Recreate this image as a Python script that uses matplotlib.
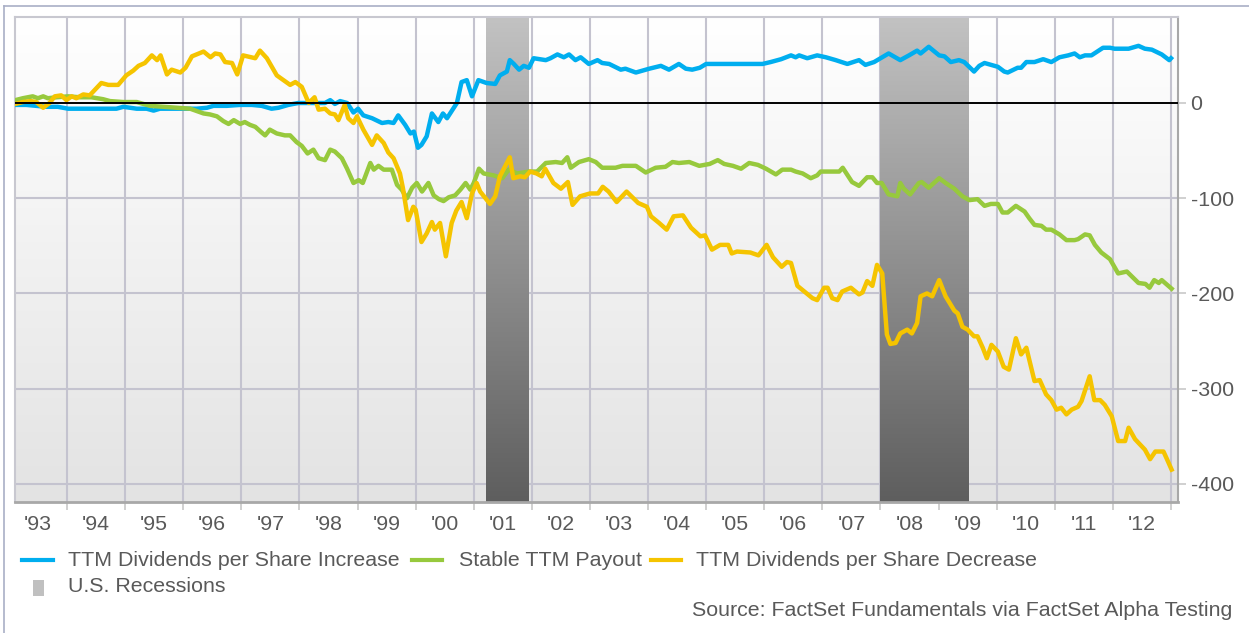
import numpy as np
import matplotlib
matplotlib.use("Agg")
import matplotlib.pyplot as plt
from matplotlib.colors import LinearSegmentedColormap
from matplotlib.lines import Line2D
from matplotlib.patches import Rectangle

# ---- data (x = fractional year) ----
inc_x = [1993.11, 1993.30, 1993.47, 1993.64, 1993.84, 1994.02, 1994.45, 1994.85, 1994.97, 1995.20,
         1995.37, 1995.49, 1995.60, 1995.89, 1996.23, 1996.41, 1996.52, 1996.75, 1996.98, 1997.18,
         1997.35, 1997.52, 1997.64, 1997.81, 1997.98, 1998.44, 1998.53, 1998.61, 1998.70, 1998.82,
         1998.93, 1999.01, 1999.10, 1999.25, 1999.42, 1999.53, 1999.62, 1999.70, 1999.82, 1999.91,
         1999.97, 2000.04, 2000.10, 2000.19, 2000.28, 2000.39, 2000.47, 2000.54, 2000.71, 2000.79,
         2000.88, 2000.97, 2001.08, 2001.22, 2001.37, 2001.45, 2001.57, 2001.62, 2001.69, 2001.78,
         2001.86, 2001.95, 2002.03, 2002.24, 2002.32, 2002.44, 2002.55, 2002.64, 2002.75, 2002.84,
         2002.98, 2003.13, 2003.21, 2003.33, 2003.53, 2003.61, 2003.79, 2004.02, 2004.22, 2004.36,
         2004.53, 2004.65, 2004.76, 2004.89, 2005.00, 2005.97, 2006.11, 2006.29, 2006.46, 2006.54,
         2006.60, 2006.74, 2006.91, 2007.06, 2007.23, 2007.43, 2007.63, 2007.74, 2007.89, 2008.00,
         2008.14, 2008.34, 2008.49, 2008.63, 2008.69, 2008.83, 2008.89, 2009.01, 2009.10, 2009.21,
         2009.35, 2009.44, 2009.61, 2009.70, 2009.79, 2010.02, 2010.13, 2010.19, 2010.36, 2010.42,
         2010.51, 2010.65, 2010.80, 2010.94, 2011.08, 2011.23, 2011.34, 2011.43, 2011.52, 2011.63,
         2011.83, 2011.95, 2012.03, 2012.27, 2012.44, 2012.55, 2012.67, 2012.84, 2012.97, 2013.00]
inc_y = [-2, -2, -3, -4, -4, -6, -6, -6, -4, -6,
         -6, -8, -6, -6, -6, -5, -3, -3, -2, -2,
         -3, -6, -5, -2, 0, 0, 3, -1, 2, 0,
         -10, -6, -13, -16, -21, -20, -21, -13, -23, -32,
         -30, -47, -44, -35, -11, -20, -11, -16, 0, 22,
         24, 7, 24, 21, 20, 29, 33, 45, 41, 35,
         39, 37, 47, 45, 47, 51, 48, 51, 45, 48,
         41, 45, 42, 41, 35, 36, 32, 36, 39, 35,
         41, 36, 35, 37, 41, 41, 43, 46, 50, 48,
         50, 47, 50, 48, 45, 41, 45, 40, 43, 47,
         52, 45, 50, 55, 52, 59, 56, 50, 49, 43,
         45, 43, 33, 39, 42, 38, 33, 32, 37, 37,
         43, 43, 46, 43, 48, 50, 52, 48, 50, 50,
         58, 58, 57, 57, 60, 57, 56, 51, 45, 47]

stable_x = [1993.11, 1993.24, 1993.41, 1993.50, 1993.59, 1993.67, 1993.82, 1994.02, 1994.22, 1994.42,
            1994.62, 1994.74, 1994.97, 1995.20, 1995.43, 1995.66, 1995.89, 1996.12, 1996.35, 1996.46,
            1996.58, 1996.69, 1996.78, 1996.87, 1996.98, 1997.06, 1997.15, 1997.24, 1997.35, 1997.41,
            1997.49, 1997.61, 1997.75, 1997.84, 1997.95, 1998.04, 1998.14, 1998.24, 1998.33, 1998.44,
            1998.53, 1998.61, 1998.73, 1998.82, 1998.93, 1999.02, 1999.09, 1999.22, 1999.28, 1999.36,
            1999.45, 1999.59, 1999.68, 1999.76, 1999.85, 1999.94, 2000.02, 2000.11, 2000.22, 2000.31,
            2000.40, 2000.48, 2000.57, 2000.68, 2000.77, 2000.86, 2000.94, 2001.00, 2001.09, 2001.17,
            2001.34, 2001.49, 2001.60, 2001.75, 2001.95, 2002.09, 2002.24, 2002.41, 2002.52, 2002.61,
            2002.67, 2002.81, 2002.98, 2003.10, 2003.21, 2003.44, 2003.56, 2003.79, 2003.96, 2004.13,
            2004.30, 2004.42, 2004.53, 2004.71, 2004.88, 2005.06, 2005.20, 2005.31, 2005.46, 2005.60,
            2005.74, 2005.89, 2006.03, 2006.20, 2006.31, 2006.46, 2006.54, 2006.66, 2006.80, 2006.91,
            2006.97, 2007.29, 2007.35, 2007.51, 2007.63, 2007.77, 2007.86, 2007.94, 2008.02, 2008.14,
            2008.29, 2008.34, 2008.40, 2008.51, 2008.66, 2008.71, 2008.83, 2009.01, 2009.12, 2009.27,
            2009.41, 2009.53, 2009.67, 2009.79, 2009.90, 2010.02, 2010.10, 2010.19, 2010.33, 2010.48,
            2010.56, 2010.65, 2010.77, 2010.85, 2010.94, 2011.08, 2011.20, 2011.34, 2011.40, 2011.52,
            2011.60, 2011.69, 2011.80, 2011.95, 2012.09, 2012.24, 2012.44, 2012.56, 2012.63, 2012.71,
            2012.79, 2012.84, 2013.01]
stable_y = [3, 5, 7, 5, 7, 5, 6, 7, 6, 6,
            4, 2, 1, 1, -3, -4, -5, -6, -11, -12,
            -14, -19, -22, -18, -22, -20, -23, -25, -31, -34,
            -28, -32, -34, -34, -41, -45, -53, -49, -58, -60,
            -49, -51, -58, -69, -84, -81, -84, -63, -70, -66,
            -70, -70, -86, -91, -100, -89, -84, -93, -84, -97,
            -101, -103, -99, -97, -91, -84, -91, -84, -69, -74,
            -76, -79, -70, -74, -72, -72, -63, -62, -63, -57,
            -68, -62, -59, -62, -68, -68, -66, -66, -73, -68,
            -67, -62, -63, -62, -66, -64, -60, -64, -66, -69,
            -63, -65, -69, -75, -70, -70, -72, -74, -79, -76,
            -72, -72, -68, -83, -87, -78, -78, -84, -84, -96,
            -98, -84, -90, -96, -84, -83, -89, -79, -84, -90,
            -98, -102, -101, -108, -106, -106, -115, -115, -108, -114,
            -121, -128, -129, -133, -133, -138, -144, -144, -143, -138,
            -139, -149, -157, -164, -179, -177, -189, -190, -194, -186,
            -189, -186, -195]

dec_x = [1993.11, 1993.24, 1993.38, 1993.47, 1993.59, 1993.70, 1993.79, 1993.90, 1993.99, 1994.08,
         1994.16, 1994.28, 1994.39, 1994.59, 1994.71, 1994.88, 1995.02, 1995.14, 1995.23, 1995.34,
         1995.46, 1995.55, 1995.61, 1995.72, 1995.80, 1995.95, 1996.04, 1996.15, 1996.35, 1996.47,
         1996.55, 1996.64, 1996.72, 1996.84, 1996.93, 1997.03, 1997.24, 1997.32, 1997.44, 1997.61,
         1997.84, 1997.93, 1998.04, 1998.16, 1998.26, 1998.33, 1998.44, 1998.53, 1998.61, 1998.67,
         1998.78, 1998.84, 1998.93, 1998.99, 1999.10, 1999.25, 1999.33, 1999.45, 1999.53, 1999.62,
         1999.73, 1999.78, 1999.87, 1999.96, 2000.00, 2000.10, 2000.19, 2000.28, 2000.33, 2000.42,
         2000.52, 2000.62, 2000.70, 2000.79, 2000.88, 2000.97, 2001.05, 2001.11, 2001.28, 2001.37,
         2001.45, 2001.62, 2001.68, 2001.80, 2001.88, 2001.97, 2002.08, 2002.17, 2002.23, 2002.37,
         2002.50, 2002.62, 2002.70, 2002.83, 2003.00, 2003.14, 2003.22, 2003.32, 2003.46, 2003.63,
         2003.83, 2003.98, 2004.05, 2004.19, 2004.32, 2004.44, 2004.60, 2004.74, 2004.90, 2004.98,
         2005.10, 2005.24, 2005.38, 2005.44, 2005.53, 2005.76, 2005.90, 2006.04, 2006.15, 2006.30,
         2006.39, 2006.46, 2006.57, 2006.69, 2006.83, 2006.91, 2007.03, 2007.09, 2007.17, 2007.26,
         2007.34, 2007.49, 2007.63, 2007.69, 2007.77, 2007.86, 2007.94, 2008.03, 2008.11, 2008.17,
         2008.26, 2008.34, 2008.46, 2008.54, 2008.63, 2008.69, 2008.80, 2008.89, 2009.01, 2009.12,
         2009.27, 2009.33, 2009.41, 2009.50, 2009.61, 2009.67, 2009.76, 2009.83, 2009.91, 2010.02,
         2010.12, 2010.21, 2010.33, 2010.42, 2010.51, 2010.65, 2010.74, 2010.85, 2010.94, 2011.03,
         2011.11, 2011.20, 2011.29, 2011.40, 2011.46, 2011.60, 2011.68, 2011.78, 2011.86, 2011.98,
         2012.09, 2012.21, 2012.27, 2012.38, 2012.55, 2012.64, 2012.73, 2012.87, 2012.93, 2013.01]
dec_y = [-1, 1, 2, 1, -5, 0, 7, 8, 3, 7,
         5, 9, 8, 21, 19, 19, 29, 34, 39, 42,
         50, 45, 50, 30, 35, 32, 37, 49, 54, 48,
         52, 51, 43, 42, 30, 50, 47, 55, 47, 29,
         19, 22, 17, 0, 6, -7, -6, -11, -12, -18,
         -2, -16, -21, -14, -28, -44, -34, -42, -52, -58,
         -74, -89, -123, -109, -112, -146, -137, -125, -133, -126,
         -161, -126, -113, -104, -121, -95, -84, -93, -106, -98,
         -77, -57, -79, -77, -78, -72, -74, -77, -69, -84,
         -90, -83, -107, -98, -95, -95, -88, -93, -104, -93,
         -105, -109, -119, -126, -133, -119, -118, -131, -140, -139,
         -154, -149, -149, -158, -156, -157, -160, -149, -162, -172,
         -167, -168, -192, -198, -205, -207, -194, -194, -205, -207,
         -198, -194, -201, -199, -187, -192, -170, -179, -243, -253,
         -252, -242, -238, -242, -231, -203, -200, -203, -186, -203,
         -218, -221, -235, -238, -245, -245, -257, -268, -254, -261,
         -277, -280, -247, -264, -257, -292, -291, -306, -312, -322,
         -320, -327, -322, -319, -313, -287, -312, -312, -317, -329,
         -355, -355, -341, -353, -364, -374, -366, -366, -374, -385]

recessions = [(2001.21, 2001.95), (2008.0, 2009.52)]
years = list(range(1993, 2013))
year_labels = ["'%02d" % (y % 100) for y in years]
y_ticks = [0, -100, -200, -300, -400]

BLUE, GREEN, GOLD = "#00aeef", "#97c93d", "#f5c400"
TXT = "#595959"
GRID = "#c4c3cf"
FS = 15.4

plt.rcParams["font.family"] = ["Liberation Sans", "DejaVu Sans"]

W, H = 1249, 633
fig = plt.figure(figsize=(W / 100, H / 100), dpi=100)
ax = fig.add_axes([15 / W, 1 - 502 / H, (1178 - 15) / W, (502 - 17) / H])
x0, x1, y0, y1 = 1993.105, 2013.12, -419, 90.3

# plot background gradient
grad = np.linspace(0, 1, 256).reshape(-1, 1)
bg_cmap = LinearSegmentedColormap.from_list("bg", ["#ffffff", "#e3e3e3"])
ax.imshow(grad, extent=[x0, x1, y0, y1], aspect="auto", cmap=bg_cmap, zorder=0)

# grid
for yr in range(1994, 2014):
    ax.axvline(yr, color=GRID, lw=1.5, zorder=1)
for v in y_ticks[1:]:
    ax.axhline(v, color=GRID, lw=1.5, zorder=1)

# recession shading
rec_cmap = LinearSegmentedColormap.from_list("rec", ["#c2c2c2", "#5e5e5e"])
for a, b in recessions:
    ax.imshow(grad, extent=[a, b, y0, y1], aspect="auto", cmap=rec_cmap, zorder=2)
ax.set_xlim(x0, x1)
ax.set_ylim(y0, y1)

ax.plot(inc_x, inc_y, color=BLUE, lw=3.2, zorder=3, solid_joinstyle="round")
ax.plot(stable_x, stable_y, color=GREEN, lw=3.2, zorder=3, solid_joinstyle="round")
ax.plot(dec_x, dec_y, color=GOLD, lw=3.2, zorder=4, solid_joinstyle="round")
ax.axhline(0, color="black", lw=1.4, zorder=5)

# axes styling
ax.yaxis.tick_right()
ax.set_yticks(y_ticks)
ax.set_yticklabels([str(v) for v in y_ticks])
ax.tick_params(axis="y", length=6, width=1.2, color="#c8c8c8", pad=3,
               labelsize=FS, labelcolor=TXT)
ax.set_xticks(range(1994, 2014))
ax.set_xticklabels([])
ax.set_xticks([y + 0.5 for y in years], minor=True)
ax.set_xticklabels(year_labels, minor=True)
ax.tick_params(axis="x", which="major", length=6, width=1.2, color="#c8c8c8")
ax.tick_params(axis="x", which="minor", length=0, pad=9, labelsize=FS, labelcolor=TXT)
for s in ["left", "top"]:
    ax.spines[s].set_color("#c8c8d0")
    ax.spines[s].set_linewidth(1.5)
ax.spines["right"].set_color("#a8a8a8")
ax.spines["right"].set_linewidth(1.5)
ax.spines["bottom"].set_color("#a8a8a8")
ax.spines["bottom"].set_linewidth(2)

# outer frame
fig.add_artist(Line2D([4 / W, 1], [1 - 6 / H, 1 - 6 / H], transform=fig.transFigure,
                      color="#a9afc6", lw=1.2))
fig.add_artist(Line2D([4 / W, 4 / W], [0, 1 - 6 / H], transform=fig.transFigure,
                      color="#a9afc6", lw=1.2))

# legend (manual)
def px(x, y):
    return x / W, 1 - y / H

legend_items = [
    (22, 53, 68, BLUE, "TTM Dividends per Share Increase"),
    (412, 442, 459, GREEN, "Stable TTM Payout"),
    (651, 681, 696, GOLD, "TTM Dividends per Share Decrease"),
]
for la, lb, tx, col, lab in legend_items:
    (xa, yy), (xb, _) = px(la, 560), px(lb, 560)
    fig.add_artist(Line2D([xa, xb], [yy, yy], transform=fig.transFigure, color=col, lw=3))
    fig.text(*px(tx, 560), lab, fontsize=FS, color=TXT, va="center", ha="left")
rx, ry = px(33, 596)
fig.add_artist(Rectangle((rx, ry), 11 / W, 16 / H, transform=fig.transFigure,
                         facecolor="#c0c0c0", edgecolor="none"))
fig.text(*px(68, 587), "U.S. Recessions", fontsize=FS, color=TXT, va="center", ha="left")
fig.text(*px(1232, 611), "Source: FactSet Fundamentals via FactSet Alpha Testing",
         fontsize=FS, color=TXT, va="center", ha="right")

fig.savefig("out.png", dpi=100)
